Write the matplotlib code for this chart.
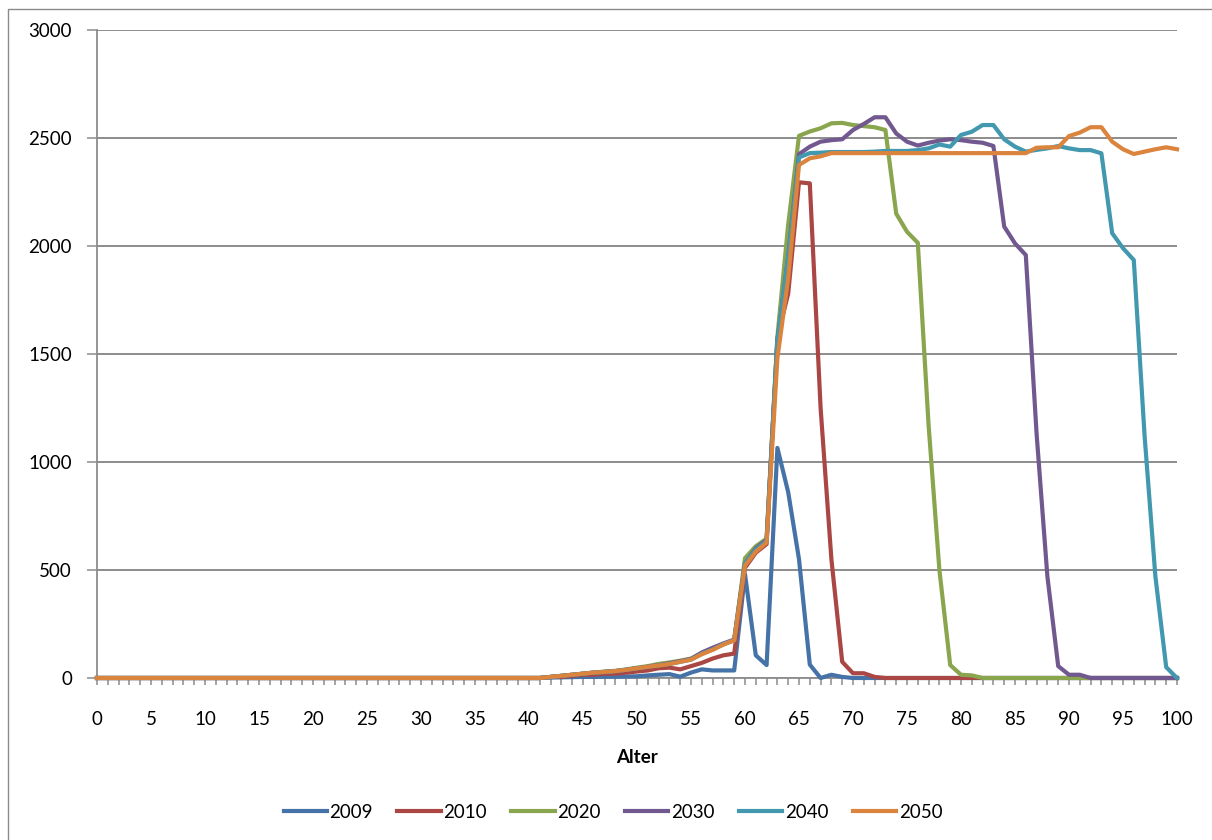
import matplotlib
matplotlib.use("Agg")
import matplotlib.pyplot as plt
from matplotlib.ticker import MultipleLocator, FuncFormatter
from matplotlib.patches import Rectangle

plt.rcParams['font.family'] = ['Lato', 'DejaVu Sans']

ages = list(range(0, 101))

# Anzahl je Alter (0..100), eine Liste pro Jahr
y2009 = [0, 0, 0, 0, 0, 0, 0, 0, 0, 0,
         0, 0, 0, 0, 0, 0, 0, 0, 0, 0,
         0, 0, 0, 0, 0, 0, 0, 0, 0, 0,
         0, 0, 0, 0, 0, 0, 0, 0, 0, 0,
         0, 0, 2, 3, 4, 5, 5, 6, 6, 7,
         8, 12, 15, 18, 6, 25, 40, 35, 35, 35,
         480, 105, 60, 1065, 860, 550, 62, 0, 15, 5,
         0, 0, 0, 0, 0, 0, 0, 0, 0, 0,
         0, 0, 0, 0, 0, 0, 0, 0, 0, 0,
         0, 0, 0, 0, 0, 0, 0, 0, 0, 0,
         0]

y2010 = [0, 0, 0, 0, 0, 0, 0, 0, 0, 0,
         0, 0, 0, 0, 0, 0, 0, 0, 0, 0,
         0, 0, 0, 0, 0, 0, 0, 0, 0, 0,
         0, 0, 0, 0, 0, 0, 0, 0, 0, 0,
         0, 0, 5, 5, 10, 15, 15, 20, 20, 25,
         30, 35, 45, 48, 40, 55, 70, 90, 105, 113,
         510, 580, 620, 1575, 1780, 2295, 2290, 1250, 550, 75,
         22, 22, 5, 0, 0, 0, 0, 0, 0, 0,
         0, 0, 0, 0, 0, 0, 0, 0, 0, 0,
         0, 0, 0, 0, 0, 0, 0, 0, 0, 0,
         0]

y2020 = [0, 0, 0, 0, 0, 0, 0, 0, 0, 0,
         0, 0, 0, 0, 0, 0, 0, 0, 0, 0,
         0, 0, 0, 0, 0, 0, 0, 0, 0, 0,
         0, 0, 0, 0, 0, 0, 0, 0, 0, 0,
         0, 0, 5, 10, 15, 20, 25, 30, 33, 40,
         48, 55, 65, 72, 80, 90, 115, 135, 155, 175,
         555, 610, 645, 1580, 2100, 2510, 2530, 2545, 2568, 2570,
         2560, 2555, 2550, 2537, 2150, 2066, 2015, 1170, 500, 60,
         15, 12, 0, 0, 0, 0, 0, 0, 0, 0,
         0, 0, 0, 0, 0, 0, 0, 0, 0, 0,
         0]

y2030 = [0, 0, 0, 0, 0, 0, 0, 0, 0, 0,
         0, 0, 0, 0, 0, 0, 0, 0, 0, 0,
         0, 0, 0, 0, 0, 0, 0, 0, 0, 0,
         0, 0, 0, 0, 0, 0, 0, 0, 0, 0,
         0, 0, 5, 10, 15, 20, 25, 28, 32, 38,
         45, 52, 60, 68, 78, 88, 118, 140, 160, 178,
         530, 600, 640, 1560, 1950, 2425, 2460, 2483, 2490, 2494,
         2537, 2565, 2596, 2596, 2521, 2483, 2465, 2478, 2488, 2494,
         2490, 2483, 2478, 2463, 2090, 2012, 1958, 1130, 470, 55,
         15, 15, 0, 0, 0, 0, 0, 0, 0, 0,
         0]

y2040 = [0, 0, 0, 0, 0, 0, 0, 0, 0, 0,
         0, 0, 0, 0, 0, 0, 0, 0, 0, 0,
         0, 0, 0, 0, 0, 0, 0, 0, 0, 0,
         0, 0, 0, 0, 0, 0, 0, 0, 0, 0,
         0, 0, 5, 10, 15, 20, 25, 28, 32, 38,
         45, 52, 58, 65, 75, 85, 112, 132, 157, 176,
         530, 595, 635, 1560, 1950, 2410, 2430, 2432, 2435, 2435,
         2435, 2435, 2437, 2440, 2440, 2440, 2444, 2452, 2470, 2460,
         2514, 2529, 2560, 2560, 2494, 2460, 2437, 2445, 2452, 2463,
         2452, 2444, 2444, 2429, 2059, 1990, 1935, 1120, 470, 50,
         0]

y2050 = [0, 0, 0, 0, 0, 0, 0, 0, 0, 0,
         0, 0, 0, 0, 0, 0, 0, 0, 0, 0,
         0, 0, 0, 0, 0, 0, 0, 0, 0, 0,
         0, 0, 0, 0, 0, 0, 0, 0, 0, 0,
         0, 0, 5, 10, 15, 20, 25, 28, 32, 38,
         45, 52, 58, 65, 75, 85, 110, 130, 155, 175,
         520, 585, 627, 1480, 1850, 2375, 2406, 2415, 2430, 2430,
         2430, 2430, 2430, 2430, 2430, 2430, 2430, 2430, 2430, 2430,
         2430, 2430, 2430, 2430, 2430, 2430, 2430, 2455, 2457, 2457,
         2509, 2525, 2550, 2550, 2483, 2448, 2426, 2437, 2448, 2457,
         2448]

series_labels = ['2009', '2010', '2020', '2030', '2040', '2050']
series_values = [y2009, y2010, y2020, y2030, y2040, y2050]
series_colors = ['#4572A7', '#AA4643', '#89A54E', '#71588F', '#4198AF', '#DB843D']

x_label = 'Alter'
y_ticks = [0, 500, 1000, 1500, 2000, 2500, 3000]

fig = plt.figure(figsize=(12.12, 8.4), dpi=100)
fig.patch.set_facecolor('white')

# outer chart frame (runs past the right and bottom edge)
fig.patches.append(Rectangle((7.5 / 1212, -0.1), 1.2, 1 - 9.5 / 840 + 0.1,
                             transform=fig.transFigure, fill=False,
                             edgecolor='#8a8a8a', linewidth=1.0))

ax = fig.add_axes([97 / 1212, 1 - 678 / 840, (1177 - 97) / 1212, (678 - 30) / 840])

for lab, vals, col in zip(series_labels, series_values, series_colors):
    ax.plot(ages, vals, color=col, linewidth=3.0, label=lab,
            solid_joinstyle='round', clip_on=False, zorder=3)

ax.set_xlim(0, 100)
ax.set_ylim(0, 3000)
ax.set_yticks(y_ticks)
ax.yaxis.grid(True, color='#8c8c8c', linewidth=1.4)
ax.set_axisbelow(True)

ax.xaxis.set_major_locator(MultipleLocator(5))
ax.xaxis.set_minor_locator(MultipleLocator(1))
ax.xaxis.set_major_formatter(FuncFormatter(lambda v, p: f'{int(round(v))}'))

for s in ['top', 'right']:
    ax.spines[s].set_visible(False)
for s in ['left', 'bottom']:
    ax.spines[s].set_color('#8c8c8c')
    ax.spines[s].set_linewidth(1.3)

ax.tick_params(axis='x', which='both', direction='out', length=5, width=1.1,
               color='#8c8c8c', labelsize=13.5, pad=19)
ax.tick_params(axis='x', which='minor', labelbottom=False)
ax.tick_params(axis='y', which='major', direction='out', length=7, width=1.1,
               color='#8c8c8c', labelsize=13.5, pad=11)

ax.set_xlabel(x_label, fontsize=13.5, fontweight='bold', labelpad=15)

fig.legend(loc='center', bbox_to_anchor=(613 / 1212, 1 - 812 / 840),
           ncol=6, frameon=False, fontsize=13.5, handlelength=2.3,
           handletextpad=0.15, columnspacing=1.3)

fig.savefig('out.png', dpi=100, facecolor='white')
